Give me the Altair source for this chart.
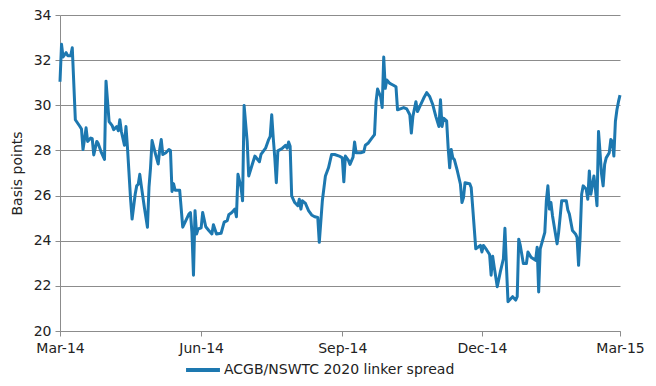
import altair as alt
import pandas as pd

series_name = "ACGB/NSWTC 2020 linker spread"
start_date = "2014-03-01"

# day offsets from 1 March 2014
day_offsets = [
    0, 1, 2, 4, 5, 7, 8, 10, 13, 14, 15, 16, 17, 18, 20, 21, 22, 24, 25, 27,
    29, 30, 32, 34, 35, 37, 38, 39, 40, 42, 43, 44, 46, 47, 49, 50, 51, 52, 53, 55,
    57, 58, 59, 60, 62, 64, 65, 66, 67, 69, 71, 72, 73, 74, 75, 76, 78, 80, 82, 84,
    85, 86, 87, 88, 89, 90, 92, 93, 95, 97, 99, 100, 102, 105, 107, 109, 110, 112, 114, 115,
    116, 118, 119, 120, 122, 123, 125, 127, 130, 131, 134, 136, 137, 138, 139, 140, 141, 142, 145, 147,
    148, 149, 150, 151, 153, 155, 156, 157, 158, 160, 162, 164, 166, 168, 169, 171, 173, 175, 177, 179,
    182, 184, 185, 186, 188, 189, 191, 192, 193, 196, 198, 199, 201, 203, 205, 206, 207, 209, 210, 211,
    212, 213, 215, 217, 219, 220, 224, 226, 228, 229, 230, 232, 233, 235, 237, 239, 241, 243, 245, 247,
    248, 249, 250, 252, 253, 254, 255, 256, 257, 259, 261, 262, 263, 264, 267, 268, 269, 271, 273, 274,
    275, 276, 278, 280, 281, 282, 283, 285, 287, 289, 290, 291, 292, 293, 295, 297, 298, 299, 300, 302,
    304, 305, 307, 310, 311, 312, 313, 316, 317, 318, 319, 320, 321, 324, 325, 327, 330, 331, 332, 334,
    336, 337, 338, 339, 340, 341, 343, 344, 345, 346, 348, 349, 350, 351, 353, 354, 355, 356, 358, 359,
    360, 361, 362, 363, 364, 365,
]

spread_bp = [
    31.04, 32.70, 32.14, 32.33, 32.20, 32.20, 32.55, 29.36, 29.06, 28.95, 28.04, 28.50, 29.00, 28.40, 28.55, 28.52, 27.80, 28.40, 28.29, 27.90,
    27.60, 31.07, 29.28, 29.10, 28.92, 29.06, 28.87, 29.36, 28.84, 28.23, 29.06, 28.10, 25.84, 24.96, 26.06, 26.43, 26.50, 26.94, 26.43, 25.47,
    24.60, 26.36, 27.23, 28.44, 27.90, 27.40, 28.04, 28.48, 27.82, 27.90, 28.04, 28.00, 26.18, 26.53, 26.24, 26.24, 26.24, 24.60, 24.89, 25.18,
    25.25, 24.37, 22.47, 25.33, 24.30, 24.52, 24.57, 25.25, 24.62, 24.45, 24.30, 24.71, 24.30, 24.33, 24.82, 24.89, 25.15, 25.25, 25.40, 25.06,
    26.94, 26.36, 25.77, 29.99, 28.40, 26.87, 27.31, 27.75, 27.50, 27.82, 28.10, 28.48, 28.62, 29.58, 28.55, 27.67, 26.57, 27.98, 28.10, 28.23,
    28.10, 28.37, 28.18, 25.99, 25.69, 25.55, 25.84, 25.40, 25.77, 25.65, 25.33, 25.14, 25.06, 25.03, 23.93, 25.77, 26.87, 27.23, 27.82, 27.82,
    27.75, 27.67, 26.61, 27.75, 27.56, 27.38, 27.70, 28.37, 27.90, 27.90, 27.94, 28.23, 28.33, 28.52, 28.70, 30.16, 30.72, 30.38, 29.90, 32.14,
    30.75, 31.12, 30.97, 30.90, 30.82, 29.80, 29.90, 29.84, 29.58, 28.77, 29.50, 30.16, 29.72, 30.02, 30.31, 30.56, 30.38, 30.02, 29.50, 29.06,
    30.24, 29.06, 29.43, 29.31, 28.11, 27.23, 28.04, 27.67, 27.60, 27.09, 26.50, 25.69, 25.91, 26.57, 26.53, 26.36, 25.47, 23.64, 23.74, 23.79,
    23.50, 23.79, 23.60, 23.39, 22.47, 23.31, 22.84, 21.96, 22.62, 23.20, 24.55, 22.84, 21.30, 21.37, 21.52, 21.37, 21.52, 24.07, 23.79, 22.99,
    22.99, 23.50, 23.27, 23.13, 23.71, 21.73, 23.64, 24.37, 25.77, 26.43, 25.40, 25.69, 25.11, 23.86, 24.37, 25.77, 25.77, 25.36, 25.18, 24.45,
    24.30, 24.15, 22.91, 24.15, 26.06, 26.43, 26.28, 25.84, 27.09, 26.06, 26.87, 26.28, 25.55, 28.84, 26.94, 26.43, 27.38, 27.67, 27.90, 28.48,
    28.40, 27.75, 29.28, 29.80, 30.16, 30.45,
]

y_ticks = [20, 22, 24, 26, 28, 30, 32, 34]

line_color = "#1d78b0"
grid_color = "#8c8c8c"
font = "DejaVu Sans"

dates = pd.Timestamp(start_date) + pd.to_timedelta(day_offsets, unit="D")
df = pd.DataFrame({
    "date": dates.strftime("%Y-%m-%d"),
    "value": spread_bp,
    "series": series_name,
})

x_ticks = [
    alt.DateTime(year=2014, month=3, date=1),
    alt.DateTime(year=2014, month=6, date=1),
    alt.DateTime(year=2014, month=9, date=1),
    alt.DateTime(year=2014, month=12, date=1),
    alt.DateTime(year=2015, month=3, date=1),
]

chart = alt.Chart(df).mark_line(strokeWidth=3, strokeJoin="round").encode(
    x=alt.X(
        "date:T",
        scale=alt.Scale(domain=[x_ticks[0], x_ticks[-1]], nice=False),
        axis=alt.Axis(
            values=x_ticks,
            format="%b-%y",
            title=None,
            grid=False,
            tickSize=5,
            tickColor=grid_color,
            domainColor=grid_color,
            labelPadding=5,
            labelAlign="center",
            labelFlush=False,
            labelOverlap=False,
        ),
    ),
    y=alt.Y(
        "value:Q",
        scale=alt.Scale(domain=[20, 34], nice=False, zero=False),
        axis=alt.Axis(
            values=y_ticks,
            title="Basis points",
            titleX=-43,
            titleY=158,
            titleAngle=-90,
            titleAlign="center",
            titleBaseline="middle",
            grid=True,
            gridColor=grid_color,
            tickSize=5,
            tickColor=grid_color,
            domainColor=grid_color,
            labelPadding=4,
        ),
    ),
    color=alt.Color(
        "series:N",
        scale=alt.Scale(domain=[series_name], range=[line_color]),
        legend=alt.Legend(
            title=None,
            orient="none",
            legendX=124,
            legendY=336,
            symbolType="stroke",
            symbolSize=1150,
            symbolStrokeWidth=4,
            labelFontSize=14,
            labelFont=font,
            labelColor="#222222",
            labelOffset=2,
            labelLimit=0,
            padding=0,
        ),
    ),
).properties(
    width=560,
    height=316,
    padding={"left": 52, "top": 7, "right": 28, "bottom": 47},
    autosize=alt.AutoSizeParams(type="none"),
).configure_view(
    stroke=None,
).configure_axis(
    labelFont=font,
    labelFontSize=14,
    labelColor="#222222",
    titleFont=font,
    titleFontSize=14,
    titleFontWeight="normal",
    titleColor="#222222",
    domainWidth=1,
    gridWidth=1,
)

chart.save("out.html", embed_options={"renderer": "svg", "actions": False})
